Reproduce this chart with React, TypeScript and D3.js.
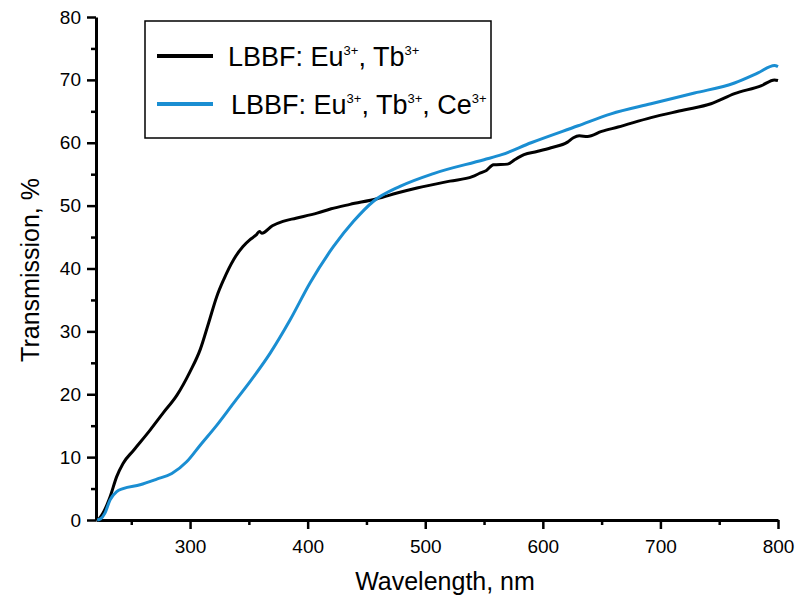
import React, { useEffect, useRef } from "react";
import * as d3 from "d3";

const blackWl = [222, 226, 232, 237.6, 243, 252, 266, 277, 289, 300, 308.6, 315.7, 322.8, 328.5, 337, 345, 351, 356, 359, 361, 370, 379, 390, 408, 420, 436, 459, 476, 493, 521, 540, 547, 552, 558, 570, 576, 584, 595, 607, 621, 626, 631, 638, 650, 664, 692, 720, 743, 763, 786, 797, 800];
const blackT = [0, 1.1, 3.7, 6.9, 9.0, 11.1, 14.3, 17.0, 19.9, 23.6, 27.1, 31.3, 35.6, 38.2, 41.4, 43.5, 44.6, 45.3, 45.9, 45.6, 46.8, 47.5, 48.0, 48.8, 49.5, 50.2, 51.1, 52.0, 52.8, 53.9, 54.6, 55.2, 55.6, 56.5, 56.6, 57.3, 58.1, 58.6, 59.2, 60.1, 60.8, 61.1, 61.0, 61.8, 62.5, 64.0, 65.2, 66.2, 67.8, 69.1, 70.0, 69.9];

const blueWl = [221, 224, 227.6, 232, 237.6, 243, 257.5, 271.7, 284.5, 297.3, 308.6, 322.8, 337, 351, 368, 385, 402, 422, 439, 456, 479, 507, 550, 565, 590, 630, 658, 692, 729, 763, 783, 797, 800];
const blueT = [0, 0.2, 1.1, 3.2, 4.5, 5.0, 5.6, 6.5, 7.4, 9.3, 11.9, 15.1, 18.6, 22.0, 26.5, 31.8, 37.7, 43.5, 47.5, 50.7, 53.1, 55.1, 57.3, 58.1, 60.0, 62.7, 64.6, 66.2, 67.9, 69.5, 71.1, 72.3, 72.1];

const xMajorTicks = [300, 400, 500, 600, 700, 800];
const xMinorTicks = [250, 350, 450, 550, 650, 750];
const yMajorTicks = [0, 10, 20, 30, 40, 50, 60, 70, 80];
const yMinorTicks = [5, 15, 25, 35, 45, 55, 65, 75];

const legendParts1: [string, boolean][] = [["LBBF: Eu", false], ["3+", true], [", Tb", false], ["3+", true]];
const legendParts2: [string, boolean][] = [["LBBF: Eu", false], ["3+", true], [", Tb", false], ["3+", true], [", Ce", false], ["3+", true]];

const BLUE = "#1a8ed2";
const FONT = "'Liberation Sans', Arial, Helvetica, sans-serif";

export default function App() {
  const ref = useRef<SVGSVGElement>(null);

  useEffect(() => {
    const svg = d3.select(ref.current);
    svg.selectAll("*").remove();

    const x = d3.scaleLinear().domain([220, 800]).range([96, 778]);
    const y = d3.scaleLinear().domain([0, 80]).range([520, 17]);

    const xMinor = svg.append("g").attr("transform", "translate(0,520)")
      .call(d3.axisBottom(x).tickValues(xMinorTicks).tickSize(5).tickFormat(() => "").tickSizeOuter(0));
    xMinor.select(".domain").remove();
    const yMinor = svg.append("g").attr("transform", "translate(96,0)")
      .call(d3.axisLeft(y).tickValues(yMinorTicks).tickSize(5).tickFormat(() => "").tickSizeOuter(0));
    yMinor.select(".domain").remove();

    const xAx = svg.append("g").attr("transform", "translate(0,520)")
      .call(d3.axisBottom(x).tickValues(xMajorTicks).tickSize(9).tickPadding(11).tickSizeOuter(0));
    const yAx = svg.append("g").attr("transform", "translate(96,0)")
      .call(d3.axisLeft(y).tickValues(yMajorTicks).tickSize(9).tickPadding(6).tickSizeOuter(0));

    svg.selectAll(".tick line").attr("stroke", "#000").attr("stroke-width", 2.5);
    [xAx, yAx].forEach((g) => {
      g.select(".domain").attr("stroke", "#000").attr("stroke-width", 3);
      g.selectAll("text").attr("font-family", FONT).attr("font-size", 19).attr("fill", "#000");
    });

    const line = d3.line<[number, number]>()
      .x((d) => x(d[0]))
      .y((d) => y(d[1]))
      .curve(d3.curveMonotoneX);

    const blackData: [number, number][] = blackWl.map((w, i) => [w, blackT[i]]);
    const blueData: [number, number][] = blueWl.map((w, i) => [w, blueT[i]]);

    svg.append("path").attr("d", line(blackData)).attr("fill", "none")
      .attr("stroke", "#000").attr("stroke-width", 3).attr("stroke-linejoin", "round");
    svg.append("path").attr("d", line(blueData)).attr("fill", "none")
      .attr("stroke", BLUE).attr("stroke-width", 3).attr("stroke-linejoin", "round");

    svg.append("text").attr("x", 445).attr("y", 590).attr("text-anchor", "middle")
      .attr("font-family", FONT).attr("font-size", 25).text("Wavelength, nm");
    svg.append("text").attr("transform", "translate(39,270) rotate(-90)").attr("text-anchor", "middle")
      .attr("font-family", FONT).attr("font-size", 25).text("Transmission, %");

    const leg = svg.append("g");
    leg.append("rect").attr("x", 145).attr("y", 21).attr("width", 346).attr("height", 117)
      .attr("fill", "#fff").attr("stroke", "#000").attr("stroke-width", 1.5);
    const items = [
      { color: "#000", y: 56, tx: 228, parts: legendParts1 },
      { color: BLUE, y: 104, tx: 231, parts: legendParts2 },
    ];
    items.forEach((it) => {
      leg.append("line").attr("x1", 157).attr("x2", 213).attr("y1", it.y).attr("y2", it.y)
        .attr("stroke", it.color).attr("stroke-width", 4);
      const t = leg.append("text").attr("x", it.tx).attr("y", it.y + 10)
        .attr("font-family", FONT).attr("font-size", 27).attr("fill", "#000");
      let raised = false;
      it.parts.forEach(([s, sup]) => {
        const dy = sup ? (raised ? 0 : -11) : (raised ? 11 : 0);
        raised = sup;
        t.append("tspan").attr("font-size", sup ? 13 : 27).attr("dy", dy).text(s);
      });
    });
  }, []);

  return (
    <svg ref={ref} width={800} height={605}
      style={{ position: "absolute", left: 0, top: 0, background: "#fff" }} />
  );
}
